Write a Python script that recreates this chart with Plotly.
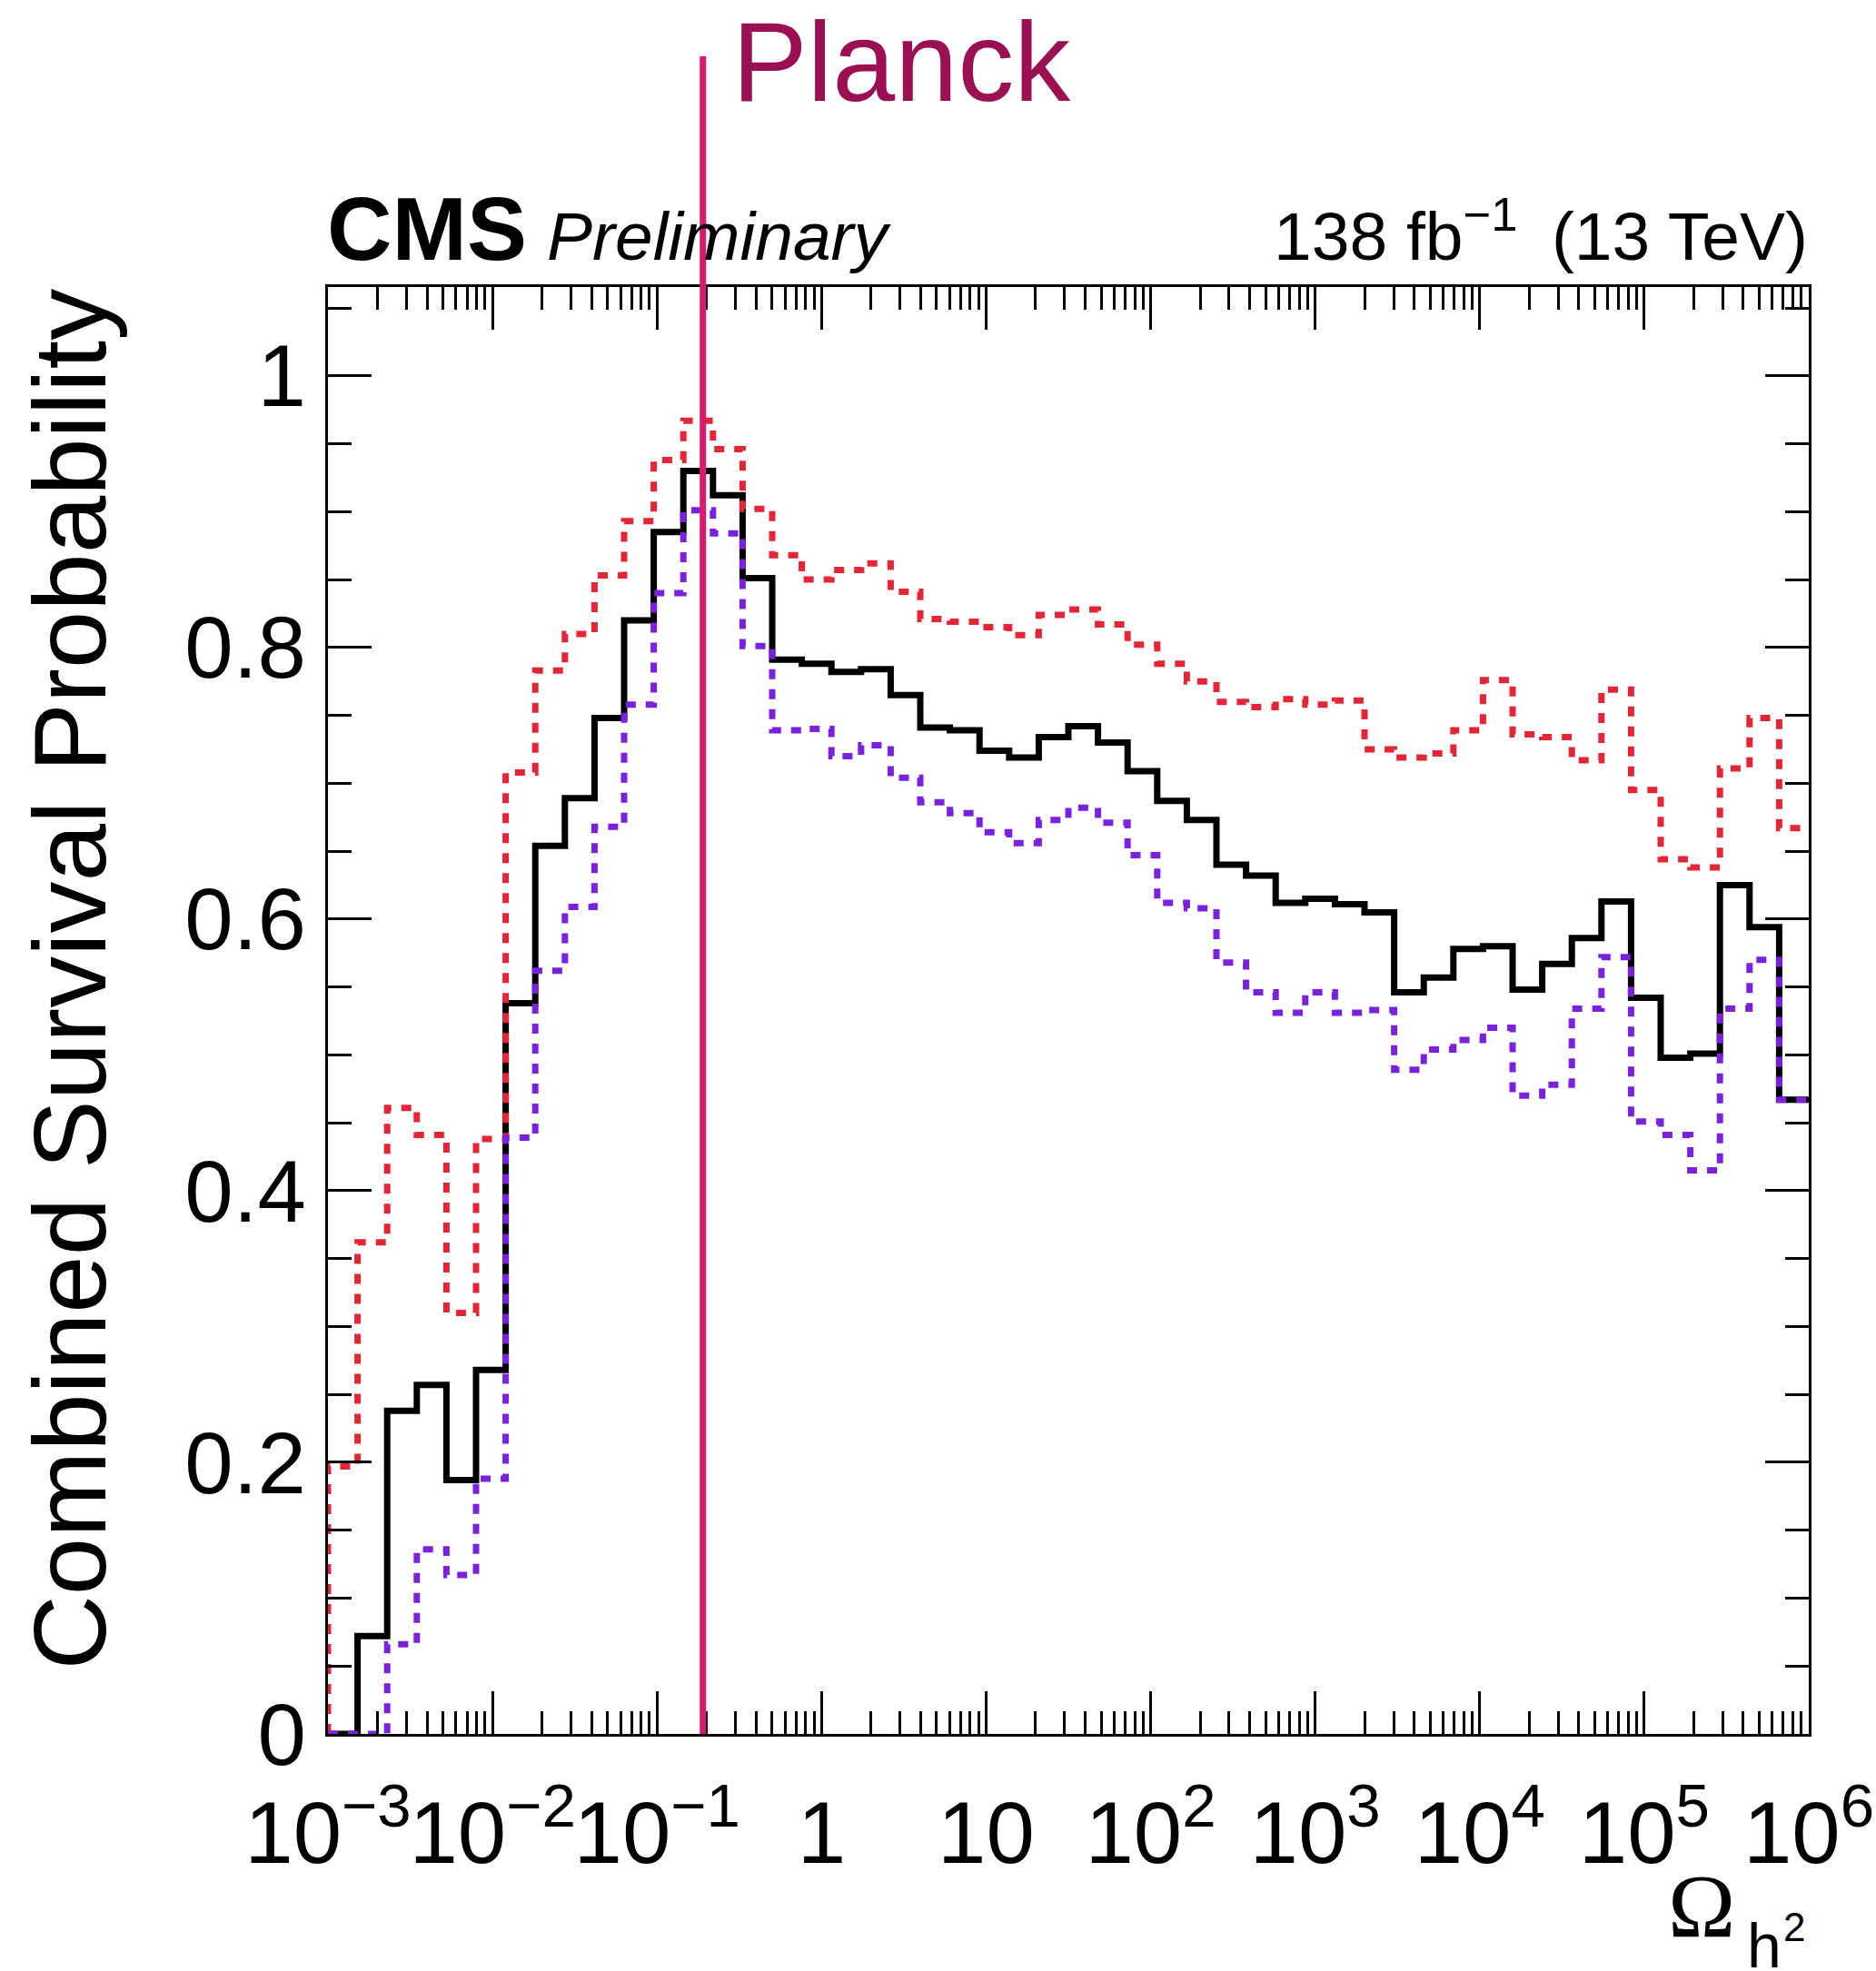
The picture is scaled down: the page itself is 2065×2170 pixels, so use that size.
import numpy as np
import plotly.graph_objects as go

# ---------------- data ----------------
n_bins = 50
log_lo, log_hi = -3, 6

combined = [0.0, 0.072, 0.238, 0.257, 0.187, 0.268, 0.538, 0.654, 0.689, 0.748,
            0.820, 0.885, 0.930, 0.912, 0.851, 0.791, 0.788, 0.782, 0.784, 0.765,
            0.741, 0.739, 0.724, 0.719, 0.734, 0.742, 0.730, 0.709, 0.687, 0.673,
            0.640, 0.632, 0.612, 0.615, 0.611, 0.605, 0.546, 0.557, 0.578, 0.580,
            0.548, 0.567, 0.586, 0.613, 0.542, 0.498, 0.501, 0.625, 0.594, 0.467]

upper = [0.197, 0.362, 0.461, 0.441, 0.310, 0.438, 0.708, 0.783, 0.810, 0.853,
         0.893, 0.938, 0.967, 0.946, 0.902, 0.868, 0.850, 0.857, 0.862, 0.841,
         0.821, 0.819, 0.815, 0.809, 0.824, 0.828, 0.817, 0.802, 0.788, 0.775,
         0.760, 0.756, 0.762, 0.758, 0.761, 0.725, 0.719, 0.722, 0.739, 0.776,
         0.736, 0.734, 0.717, 0.769, 0.695, 0.644, 0.638, 0.711, 0.748, 0.667]

lower = [0.0, 0.0, 0.066, 0.136, 0.117, 0.188, 0.439, 0.562, 0.609, 0.668,
         0.758, 0.840, 0.901, 0.884, 0.801, 0.739, 0.740, 0.720, 0.728, 0.704,
         0.686, 0.678, 0.664, 0.656, 0.673, 0.682, 0.671, 0.647, 0.612, 0.608,
         0.568, 0.546, 0.531, 0.546, 0.531, 0.533, 0.489, 0.504, 0.511, 0.520,
         0.470, 0.478, 0.534, 0.572, 0.451, 0.441, 0.415, 0.534, 0.570, 0.467]

planck_omega = 0.19

y_tickvals = [0, 0.2, 0.4, 0.6, 0.8, 1.0]
y_ticktext = ["0", "0.2", "0.4", "0.6", "0.8", "1"]
x_tickvals = [1e-3, 1e-2, 1e-1, 1, 10, 1e2, 1e3, 1e4, 1e5, 1e6]
x_ticktext = ["10<sup>\u22123</sup>", "10<sup>\u22122</sup>", "10<sup>\u22121</sup>", "1", "10",
              "10<sup>2</sup>", "10<sup>3</sup>", "10<sup>4</sup>", "10<sup>5</sup>", "10<sup>6</sup>"]
x_minor = [m * 10.0 ** k for k in range(-3, 6) for m in range(2, 10)]

# ---------------- figure ----------------
W, H = 2065, 2170
ML, MR, MT, MB = 361, 74, 316, 261
PW, PH = W - ML - MR, H - MT - MB

def px(x):
    return (x - ML) / PW

def py(y):
    return (H - MB - y) / PH

edges = 10 ** np.linspace(log_lo, log_hi, n_bins + 1)

def step(vals):
    xs = [edges[0]] + list(edges[:-1]) + [edges[-1]]
    ys = [0.0] + list(vals) + [vals[-1]]
    return xs, ys

FONT = "Liberation Sans, Arial, Helvetica, sans-serif"
fig = go.Figure()

for vals, color, dash in [(combined, "black", "solid"),
                          (upper, "#e42536", "11px,11px"),
                          (lower, "#7a21dd", "11px,11px")]:
    xs, ys = step(vals)
    fig.add_trace(go.Scatter(x=xs, y=ys, mode="lines", line_shape="hv",
                             line=dict(color=color, width=7, dash=dash),
                             showlegend=False, hoverinfo="skip"))

fig.add_shape(type="line", xref="x", yref="paper", x0=planck_omega, x1=planck_omega,
              y0=0, y1=py(62), line=dict(color="#d81b6e", width=7), layer="above")

tick_common = dict(ticks="inside", tickwidth=3, tickcolor="black", showline=True,
                   linecolor="black", linewidth=3, mirror="ticks", showgrid=False,
                   zeroline=False, automargin=False,
                   tickfont=dict(family=FONT, size=96, color="black"))

fig.update_xaxes(type="log", range=[log_lo, log_hi], tickmode="array",
                 tickvals=x_tickvals, ticktext=x_ticktext, ticklen=47, tickangle=0,
                 minor=dict(tickmode="array", tickvals=x_minor, ticks="inside",
                            ticklen=25, tickwidth=3, tickcolor="black", showgrid=False),
                 ticklabelstandoff=24, **tick_common)
fig.update_yaxes(range=[0, 1.0654], tickmode="array", tickvals=y_tickvals,
                 ticktext=y_ticktext, ticklen=48,
                 minor=dict(dtick=0.05, ticks="inside", ticklen=26, tickwidth=3,
                            tickcolor="black", showgrid=False),
                 ticklabelstandoff=2, **tick_common)

ann = []
ann.append(dict(text="<b>CMS</b>", x=px(358), y=py(309), xanchor="left", yanchor="bottom",
                font=dict(family=FONT, size=99, color="black")))
ann.append(dict(text="<i>Preliminary</i>", x=px(600), y=py(304), xanchor="left",
                yanchor="bottom", font=dict(family=FONT, size=75, color="black")))
ann.append(dict(text="138 fb<sup>\u22121</sup>\u2002(13 TeV)", x=px(1992), y=py(304),
                xanchor="right", yanchor="bottom",
                font=dict(family=FONT, size=75, color="black")))
ann.append(dict(text="Planck", x=px(804), y=py(139), xanchor="left", yanchor="bottom",
                font=dict(family=FONT, size=124, color="#9b1053")))
ann.append(dict(text="Combined Survival Probability", x=px(76), y=1.0, xanchor="center",
                yanchor="top", textangle=-90,
                font=dict(family=FONT, size=114, color="black")))
ann.append(dict(text="\u03a9", x=px(1834), y=py(2156), xanchor="left", yanchor="bottom",
                font=dict(family="Liberation Serif, Times New Roman, serif", size=100,
                          color="black")))
ann.append(dict(text="h", x=px(1921), y=py(2182), xanchor="left", yanchor="bottom",
                font=dict(family=FONT, size=68, color="black")))
ann.append(dict(text="2", x=px(1961), y=py(2148), xanchor="left", yanchor="bottom",
                font=dict(family=FONT, size=44, color="black")))
for a in ann:
    a.update(xref="paper", yref="paper", showarrow=False)

fig.update_layout(width=W, height=H, autosize=False,
                  margin=dict(l=ML, r=MR, t=MT, b=MB, pad=0, autoexpand=False),
                  paper_bgcolor="white", plot_bgcolor="white",
                  annotations=ann, showlegend=False)

fig.write_html("out.html")
